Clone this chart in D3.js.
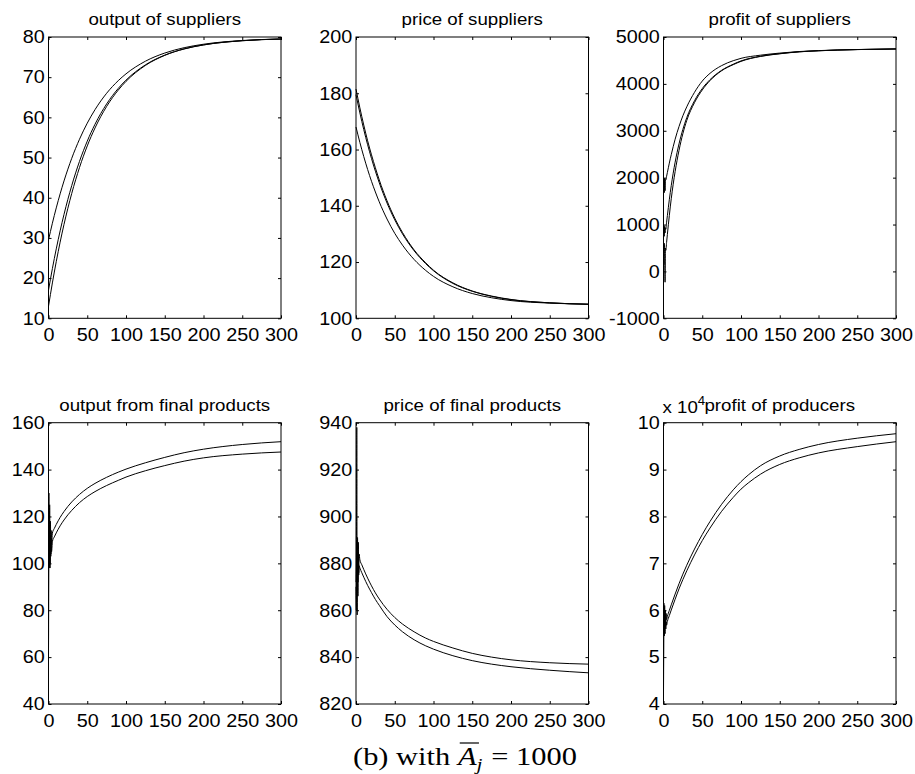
<!DOCTYPE html>
<html>
<head>
<meta charset="utf-8">
<script src="https://cdn.jsdelivr.net/npm/d3@7"></script>
<style>
  body { margin: 0; background: #fff; }
  svg { display: block; }
  text { white-space: pre; }
</style>
</head>
<body>
<svg id="fig" width="915" height="774"></svg>
<script>
// ---- time grids ----
const tSmooth = [0, 5, 10, 15, 20, 25, 30, 40, 50, 60, 75, 90, 100, 125, 150, 175, 200, 250, 300];
const tProfitSup = [0, 0.5, 1, 1.5, 2, 2.5, 3, 4, 5, 7.5, 10, 15, 20, 25, 30, 40, 50, 60, 75, 90, 100, 125, 150, 175, 200, 250, 300];
const tFinal = [0, 0.5, 1, 1.5, 2, 2.5, 3, 3.5, 4, 5, 7.5, 10, 15, 20, 25, 30, 40, 50, 60, 75, 90, 100, 125, 150, 175, 200, 250, 300];
const tProfitProd = [0, 0.5, 1, 1.5, 2, 2.5, 3, 3.5, 4, 5, 7.5, 10, 15, 20, 25, 30, 40, 50, 60, 75, 90, 100, 110, 125, 150, 175, 200, 250, 300];

// ---- output of suppliers ----
const outputSup1 = [29.5, 33.66, 37.47, 40.97, 44.18, 47.12, 49.82, 54.56, 58.56, 61.92, 66.0, 69.14, 70.83, 73.97, 76.01, 77.34, 78.2, 79.13, 79.51];
const outputSup2 = [17.0, 22.36, 27.27, 31.76, 35.86, 39.61, 43.04, 49.06, 54.08, 58.29, 63.34, 67.21, 69.27, 73.06, 75.49, 77.04, 78.04, 79.08, 79.5];
const outputSup3 = [13.0, 18.8, 24.1, 28.95, 33.37, 37.4, 41.09, 47.52, 52.89, 57.36, 62.72, 66.79, 68.96, 72.92, 75.43, 77.03, 78.02, 79.07, 79.49];

// ---- price of suppliers ----
const priceSup1 = [181.5, 174.8, 168.7, 163.1, 158.1, 153.5, 149.2, 141.8, 135.6, 130.5, 124.3, 119.7, 117.1, 112.6, 109.7, 107.9, 106.7, 105.5, 105.0];
const priceSup2 = [179.5, 173.0, 167.1, 161.7, 156.8, 152.3, 148.2, 141.0, 135.0, 130.0, 124.0, 119.4, 116.9, 112.4, 109.6, 107.8, 106.6, 105.5, 105.0];
const priceSup3 = [168.0, 162.5, 157.5, 152.9, 148.7, 144.9, 141.4, 135.3, 130.2, 126.0, 120.9, 117.0, 114.9, 111.2, 108.8, 107.3, 106.3, 105.4, 105.0];

// ---- profit of suppliers ----
const profitSup1 = [1700, 1990, 1680, 1980, 1720, 1960, 1950, 2030, 2110, 2310, 2490, 2820, 3090, 3320, 3510, 3820, 4060, 4225, 4390, 4495, 4545, 4612, 4657, 4690, 4710, 4733, 4746];
const profitSup2 = [700, 980, 750, 960, 820, 930, 900, 1050, 1190, 1530, 1830, 2330, 2720, 3030, 3280, 3640, 3900, 4090, 4290, 4420, 4490, 4590, 4645, 4685, 4707, 4732, 4745];
const profitSup3 = [400, 150, 600, 380, -230, 500, 450, 620, 790, 1190, 1550, 2130, 2580, 2940, 3220, 3600, 3870, 4070, 4280, 4410, 4480, 4585, 4642, 4683, 4706, 4732, 4745];

// ---- output from final products ----
const outputFin1 = [57, 130, 98, 125, 100, 118, 104, 114, 108, 112.9, 114.9, 116.6, 119.6, 122.1, 124.3, 126.2, 129.4, 132.0, 134.1, 136.7, 138.9, 140.2, 142.9, 145.2, 147.2, 148.7, 150.7, 151.9];
const outputFin2 = [60, 115, 99, 112, 98, 110, 103, 108, 105, 109.3, 111.3, 113.0, 116.0, 118.5, 120.7, 122.6, 125.9, 128.5, 130.6, 133.2, 135.4, 136.8, 139.5, 141.7, 143.6, 145.0, 146.6, 147.5];

// ---- price of final products ----
const priceFin1 = [872, 884, 938, 858, 891, 866, 889, 876, 884, 881.5, 879.4, 877.4, 873.7, 870.4, 867.4, 864.8, 860.4, 856.9, 854.1, 850.8, 848.1, 846.7, 843.9, 841.6, 840.0, 838.85, 837.6, 837.0];
const priceFin2 = [870, 860, 890, 868, 887, 872, 884, 875, 879, 878, 876.0, 874.1, 870.6, 867.5, 864.6, 862.1, 857.3, 853.7, 850.8, 847.4, 844.8, 843.4, 840.6, 838.5, 837.0, 835.9, 834.4, 833.3];

// ---- profit of producers ----
const profitProd1 = [41300, 61500, 55800, 61000, 56500, 60000, 57200, 59300, 58000, 58700, 59950, 61150, 63450, 65650, 67700, 69600, 73050, 76150, 78930, 82600, 85680, 87430, 88930, 90800, 92900, 94300, 95350, 96700, 97650];
const profitProd2 = [43000, 59000, 54500, 58500, 55000, 58000, 56000, 57500, 56800, 57600, 58850, 60050, 62350, 64550, 66550, 68400, 71800, 74850, 77530, 81100, 84080, 85830, 87230, 89000, 91100, 92500, 93550, 94900, 95950];

// ---- tick labels ----
const xTicks = [0, 50, 100, 150, 200, 250, 300];
const yTicksOutSup = [10, 20, 30, 40, 50, 60, 70, 80];
const yTicksPriceSup = [100, 120, 140, 160, 180, 200];
const yTicksProfitSup = [-1000, 0, 1000, 2000, 3000, 4000, 5000];
const yTicksOutFin = [40, 60, 80, 100, 120, 140, 160];
const yTicksPriceFin = [820, 840, 860, 880, 900, 920, 940];
const yTicksProfitProd = [40000, 50000, 60000, 70000, 80000, 90000, 100000];

const titles = ["output of suppliers", "price of suppliers", "profit of suppliers",
                "output from final products", "price of final products", "profit of producers"];

// ---- panel definitions ----
const plain = d => String(d);
const panels = [
  { row: 0, col: 0, title: titles[0], t: tSmooth, series: [outputSup1, outputSup2, outputSup3], yTicks: yTicksOutSup, fmt: plain },
  { row: 0, col: 1, title: titles[1], t: tSmooth, series: [priceSup1, priceSup2, priceSup3], yTicks: yTicksPriceSup, fmt: plain },
  { row: 0, col: 2, title: titles[2], t: tProfitSup, series: [profitSup1, profitSup2, profitSup3], yTicks: yTicksProfitSup, fmt: plain },
  { row: 1, col: 0, title: titles[3], t: tFinal, series: [outputFin1, outputFin2], yTicks: yTicksOutFin, fmt: plain },
  { row: 1, col: 1, title: titles[4], t: tFinal, series: [priceFin1, priceFin2], yTicks: yTicksPriceFin, fmt: plain },
  { row: 1, col: 2, title: titles[5], t: tProfitProd, series: [profitProd1, profitProd2], yTicks: yTicksProfitProd, fmt: d => String(d / 1e4), exponent: 4 }
];

// ---- layout ----
const colX = [48.5, 356, 663.5];
const rowY = [37, 422.7];
const axW = 232.5, axH = 281.3;
const FONT = '"Liberation Sans", Arial, Helvetica, sans-serif';
const TICK_FS = 18, TICK_SX = 1.1;      // tick labels
const TITLE_FS = 17, TITLE_SX = 1.1;    // panel titles
const TICK = 3;

const svg = d3.select('#fig');
svg.append('rect').attr('width', 915).attr('height', 774).attr('fill', '#fff');

panels.forEach(p => {
  const x0 = colX[p.col], y0 = rowY[p.row];
  const x = d3.scaleLinear().domain([0, 300]).range([x0, x0 + axW]);
  const y = d3.scaleLinear().domain([p.yTicks[0], p.yTicks[p.yTicks.length - 1]]).range([y0 + axH, y0]);
  const g = svg.append('g');

  // inward ticks on all four sides
  const left = g.append('g').attr('transform', `translate(${x0},0)`)
    .call(d3.axisLeft(y).tickValues(p.yTicks).tickSize(-TICK).tickSizeOuter(0).tickPadding(3.5).tickFormat(p.fmt));
  const bottom = g.append('g').attr('transform', `translate(0,${y0 + axH})`)
    .call(d3.axisBottom(x).tickValues(xTicks).tickSize(-TICK).tickSizeOuter(0).tickPadding(10).tickFormat(plain));
  const right = g.append('g').attr('transform', `translate(${x0 + axW},0)`)
    .call(d3.axisRight(y).tickValues(p.yTicks).tickSize(-TICK).tickSizeOuter(0).tickFormat(''));
  const top = g.append('g').attr('transform', `translate(0,${y0})`)
    .call(d3.axisTop(x).tickValues(xTicks).tickSize(-TICK).tickSizeOuter(0).tickFormat(''));

  [left, bottom, right, top].forEach(a => {
    a.select('.domain').remove();
    a.attr('font-family', null).attr('font-size', null);
    a.selectAll('.tick line').attr('stroke', '#000').attr('stroke-width', 1);
    a.selectAll('.tick text')
      .attr('font-family', FONT).attr('font-size', TICK_FS).attr('fill', '#000')
      .attr('transform', `scale(${TICK_SX},1)`);
  });

  // frame
  g.append('rect')
    .attr('x', x0).attr('y', y0).attr('width', axW).attr('height', axH)
    .attr('fill', 'none').attr('stroke', '#000').attr('stroke-width', 1);

  // curves
  const line = d3.line()
    .x((d, i) => x(p.t[i]))
    .y(d => y(d))
    .curve(d3.curveMonotoneX);
  p.series.forEach(s => {
    g.append('path').datum(s)
      .attr('d', line)
      .attr('fill', 'none')
      .attr('stroke', '#000')
      .attr('stroke-width', 1);
  });

  // title
  g.append('text')
    .attr('transform', `translate(${x0 + axW / 2},${y0 - 12}) scale(${TITLE_SX},1)`)
    .attr('text-anchor', 'middle')
    .attr('font-family', FONT).attr('font-size', TITLE_FS).attr('fill', '#000')
    .text(p.title);

  // exponent label for scaled axis
  if (p.exponent) {
    const ex = g.append('text')
      .attr('transform', `translate(${x0 - 1},${y0 - 10}) scale(${TITLE_SX},1)`)
      .attr('font-family', FONT).attr('font-size', TITLE_FS).attr('fill', '#000');
    ex.append('tspan').text('x 10');
    ex.append('tspan').attr('font-size', 12).attr('dy', -8).text(p.exponent);
  }
});

// ---- caption: (b) with A-bar_j = 1000 ----
const capFont = '"Liberation Serif", "Times New Roman", serif';
const capFS = 25;
const capWidth = 224;
const cap = svg.append('g');
const capParts = [
  { txt: '(b) with ', style: 'normal' },
  { txt: 'A', style: 'italic', bar: true },
  { txt: 'j', style: 'italic', sub: true },
  { txt: ' = 1000', style: 'normal' }
];
let cx = 0;
const pieces = [];
capParts.forEach(pt => {
  const fs = pt.sub ? capFS * 0.7 : capFS;
  const el = cap.append('text')
    .attr('font-family', capFont)
    .attr('font-size', fs)
    .attr('font-style', pt.style)
    .attr('fill', '#000')
    .attr('x', cx)
    .attr('y', pt.sub ? 5 : 0)
    .text(pt.txt);
  const w = el.node().getComputedTextLength();
  pieces.push({ x: cx, w, pt });
  cx += w + (pt.sub ? 1 : 0);
});
pieces.forEach(pc => {
  if (pc.pt.bar) {
    cap.append('line')
      .attr('x1', pc.x + 1.5).attr('x2', pc.x + pc.w + 2)
      .attr('y1', -capFS * 0.88).attr('y2', -capFS * 0.88)
      .attr('stroke', '#000').attr('stroke-width', 1.2);
  }
});
const capScale = capWidth / cx;
cap.attr('transform', `translate(${465 - capWidth / 2},765) scale(${capScale},1)`);
</script>
</body>
</html>
